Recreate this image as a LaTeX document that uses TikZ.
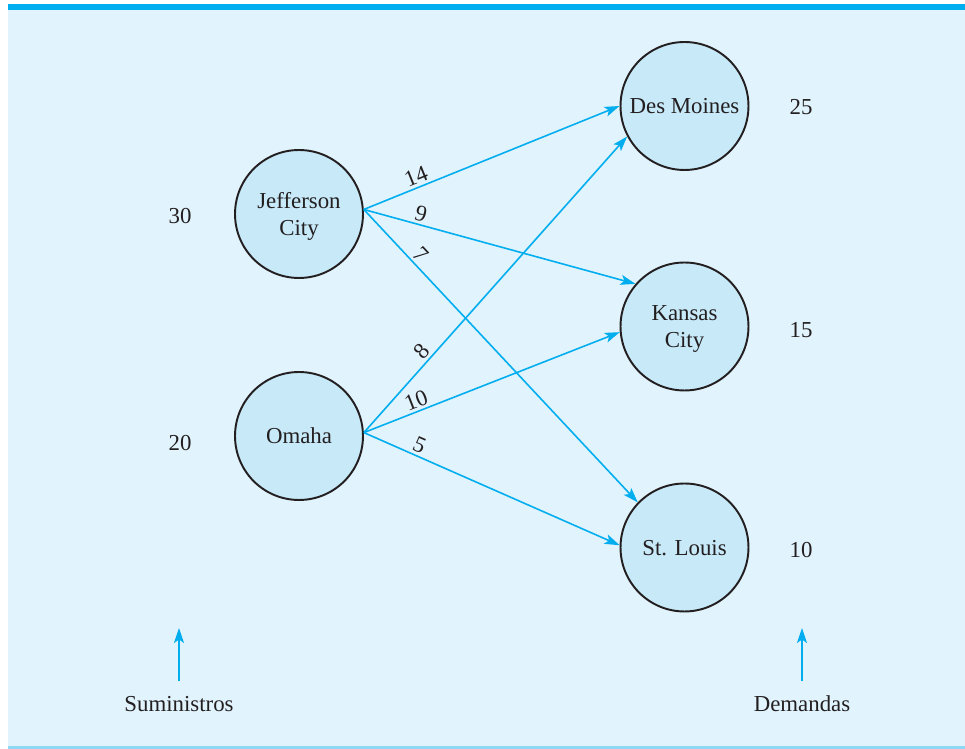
\documentclass[tikz,border=0pt]{standalone}
\usepackage{fontspec}
\setmainfont{Liberation Serif}
\usetikzlibrary{arrows.meta}
\definecolor{panelbg}{HTML}{E1F3FC}
\definecolor{topbar}{HTML}{00AEEF}
\definecolor{bottomline}{HTML}{8FD8F5}
\definecolor{cityfill}{HTML}{C7E9F8}
\definecolor{routeblue}{HTML}{00AEEF}
\definecolor{inktext}{HTML}{231F20}
\newcommand{\citysize}{\fontsize{13}{15}\selectfont}

\begin{document}
\begin{tikzpicture}[
x=0.02cm,y=-0.02cm,
city/.style={circle,draw=inktext,line width=1.1pt,fill=cityfill,minimum size=2.56cm,inner sep=0pt,align=center,font=\citysize,text=inktext,text depth=0pt},
route/.style={-{Stealth[length=3mm,width=2mm,inset=0.7mm]},draw=routeblue,line width=0.9pt},
cost/.style={sloped,above,font=\citysize,text=inktext,inner sep=1.5pt},
amount/.style={font=\citysize,text=inktext}
]
% panel
\useasboundingbox (0,0) rectangle (965,749);
\fill[panelbg] (8,4) rectangle (965,749);
\fill[topbar] (8,4) rectangle (965,10);
\fill[bottomline] (8,746) rectangle (965,749);

% origins and destinations
\node[city] (J) at (299,214) {Jefferson\\City};
\node[city] (O) at (299,436) {Omaha};
\node[city] (D) at (684.5,106) {Des Moines};
\node[city] (K) at (684.5,326.5) {Kansas\\City};
\node[city] (S) at (684.5,547.5) {St. Louis};

% supplies and demands
\node[amount] (sJ) at (180,216) {30};
\node[amount] (sO) at (180,443) {20};
\node[amount] (dD) at (801,107) {25};
\node[amount] (dK) at (801,330) {15};
\node[amount] (dS) at (801,550) {10};

% routes with unit costs
\draw[route] (J.4) -- node[cost,pos=0.22]{14} (D.180);
\draw[route] (J.4) -- node[cost,pos=0.2]{9} (K.139);
\draw[route] (J.4) -- node[cost,pos=0.18]{7} (S.136);
\draw[route] (O.3) -- node[cost,pos=0.25]{8} (D.208);
\draw[route] (O.3) -- node[cost,pos=0.22]{10} (K.185);
\draw[route] (O.3) -- node[cost,pos=0.2]{5} (S.178);

% bottom captions
\node[amount] (sum) at (179,704) {Suministros};
\node[amount] (dem) at (802,704) {Demandas};
\coordinate (sumtip) at (179,628);
\coordinate (demtip) at (802,628);
\draw[route,shorten <=1.8mm] (sum.north) -- (sumtip);
\draw[route,shorten <=1.8mm] (dem.north) -- (demtip);
\end{tikzpicture}
\end{document}
